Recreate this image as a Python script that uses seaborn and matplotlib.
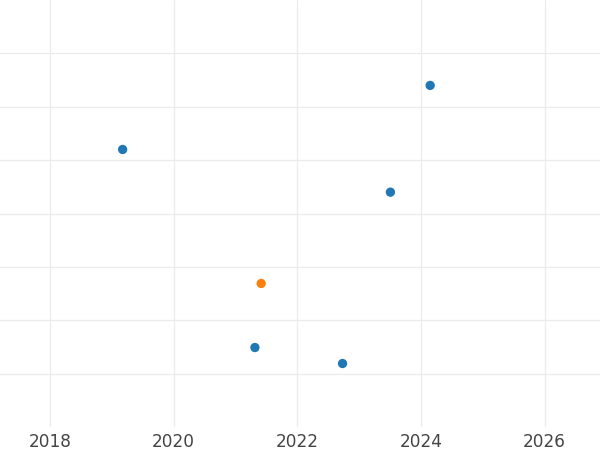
import pandas as pd
import matplotlib
matplotlib.use('Agg')
import matplotlib.pyplot as plt
import matplotlib.dates as mdates
import seaborn as sns

# values (y has no labels, arbitrary units)
dates = ['2019-03-05', '2024-02-25', '2023-07-05', '2021-06-01', '2021-04-25', '2022-09-25']
values = [5.20, 6.40, 4.40, 2.69, 1.49, 1.19]
groups = ['a', 'a', 'a', 'b', 'a', 'a']
palette = {'a': '#1f77b4', 'b': '#ff7f0e'}

df = pd.DataFrame({'date': pd.to_datetime(dates), 'value': values, 'group': groups})

sns.set_theme(style='whitegrid')
fig = plt.figure(figsize=(6, 4.5), dpi=100)
ax = fig.add_axes([0, 0.051, 1, 0.949])

sns.scatterplot(data=df, x='date', y='value', hue='group', palette=palette,
                s=45, linewidth=0, legend=False, ax=ax)

ax.set_xlim(pd.Timestamp('2017-03-10'), pd.Timestamp('2026-11-25'))
ax.set_ylim(0, 8)
ax.xaxis.set_major_locator(mdates.YearLocator(2))
ax.xaxis.set_major_formatter(mdates.DateFormatter('%Y'))
ax.set_yticks(range(1, 8))
ax.set_yticklabels([])
ax.set_xlabel('')
ax.set_ylabel('')
ax.grid(True, color='#ebebeb', linewidth=0.9)
ax.tick_params(axis='x', length=0, pad=4, labelsize=12.2, labelcolor='#444444')
ax.tick_params(axis='y', length=0)
for s in ax.spines.values():
    s.set_visible(False)

fig.savefig('out.png', dpi=100)
